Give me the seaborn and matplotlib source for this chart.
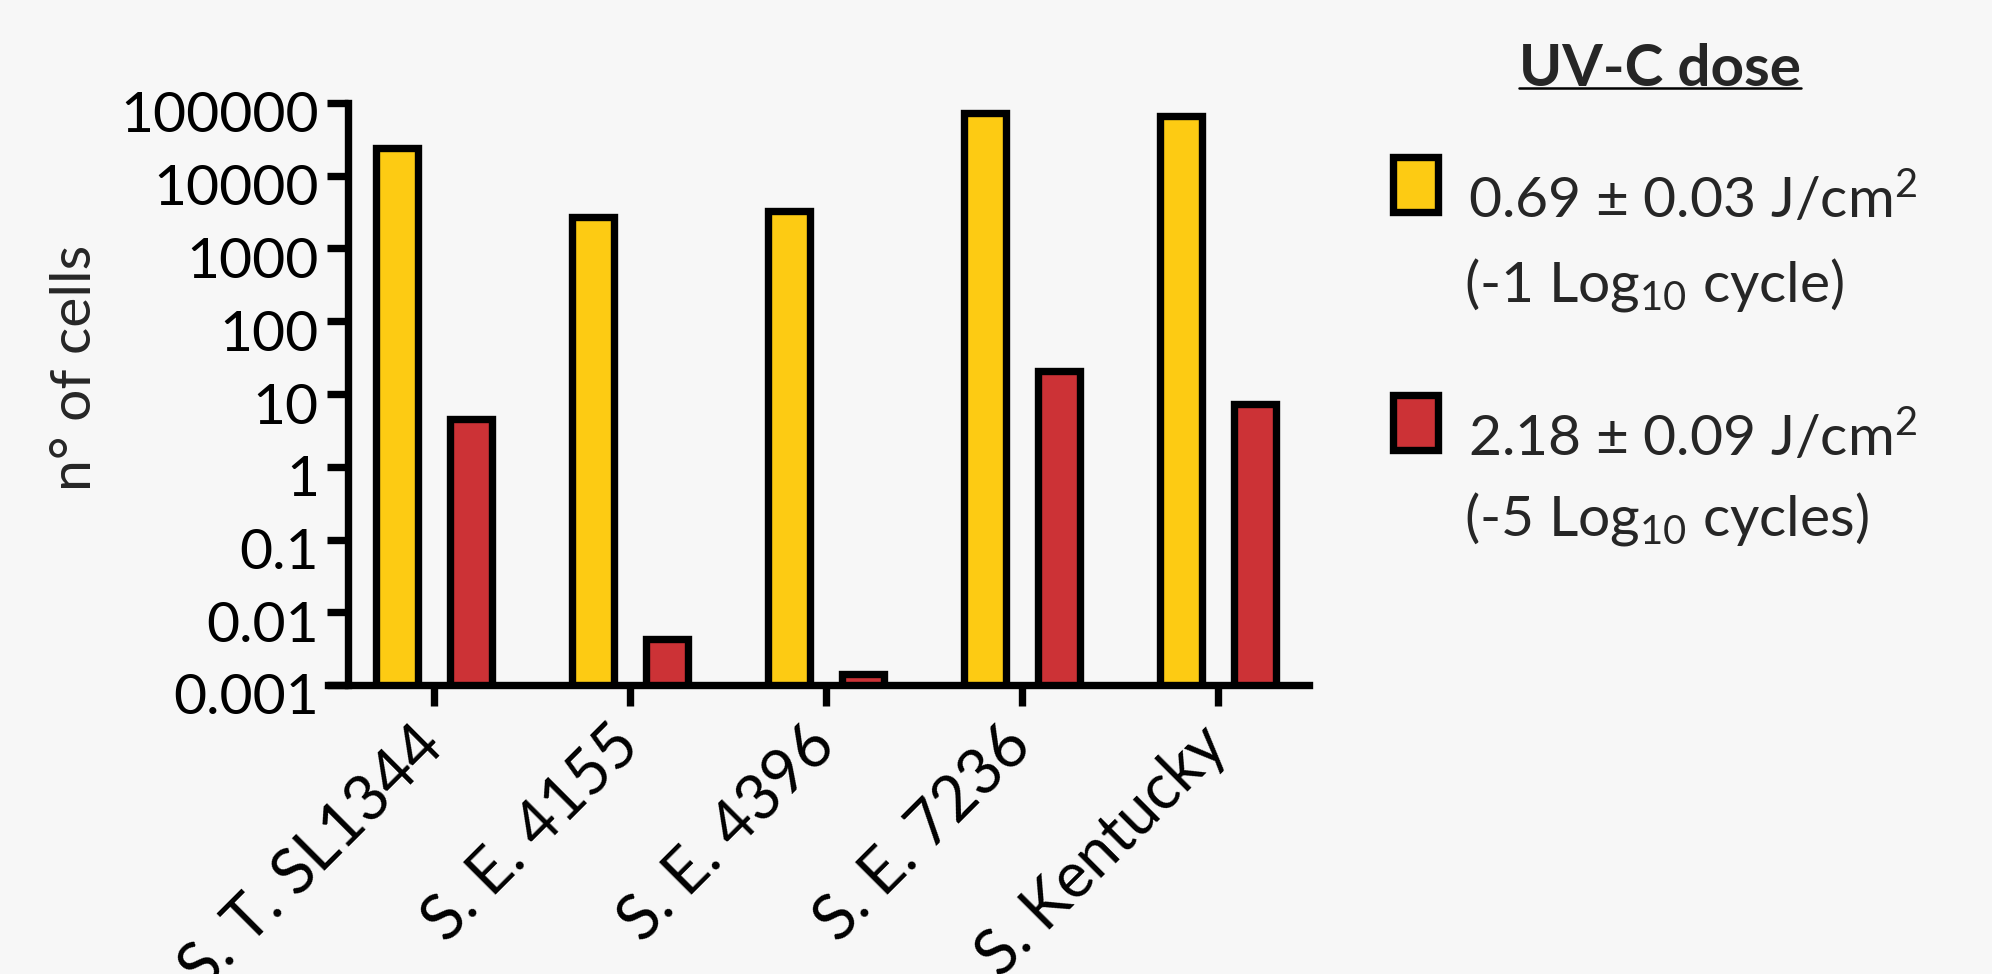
import matplotlib
matplotlib.use("Agg")
import matplotlib.pyplot as plt
import matplotlib.transforms as mtransforms
from matplotlib.patches import Rectangle
from matplotlib.lines import Line2D
from matplotlib.ticker import NullLocator
import pandas as pd
import seaborn as sns

# Strains and surviving cell counts after each UV-C dose
strains = ["S. T. SL1344", "S. E. 4155", "S. E. 4396", "S. E. 7236", "S. Kentucky"]
low_dose_counts = [24000, 2700, 3300, 72000, 67000]
high_dose_counts = [4.5, 0.0043, 0.0014, 21, 7.2]

dose_names = ["low", "high"]
dose_line1 = ["0.69 ± 0.03 J/cm$^{2}$", "2.18 ± 0.09 J/cm$^{2}$"]
dose_line2 = ["(-1 Log$_{10}$ cycle)", "(-5 Log$_{10}$ cycles)"]
legend_title = "UV-C dose"
y_label = "n° of cells"

y_tick_values = [0.001, 0.01, 0.1, 1, 10, 100, 1000, 10000, 100000]
y_tick_labels = ["0.001", "0.01", "0.1", "1", "10", "100", "1000", "10000", "100000"]

colors = ["#FDCB13", "#CC3236"]
bg = "#F7F7F7"

sns.set_theme(style="ticks")
plt.rcParams["font.family"] = ["Lato", "DejaVu Sans"]
plt.rcParams["mathtext.fontset"] = "custom"
plt.rcParams["mathtext.rm"] = "Lato"
plt.rcParams["mathtext.it"] = "Lato:italic"
plt.rcParams["mathtext.bf"] = "Lato:bold"
plt.rcParams["mathtext.default"] = "regular"

df = pd.DataFrame({
    "strain": strains * 2,
    "dose": [dose_names[0]] * len(strains) + [dose_names[1]] * len(strains),
    "cells": low_dose_counts + high_dose_counts,
})

W, H = 1992, 974
fig = plt.figure(figsize=(W / 100, H / 100), dpi=100, facecolor=bg)
ax = fig.add_axes([348 / W, 1 - 685 / H, (1309 - 348) / W, (685 - 103) / H])
ax.set_facecolor(bg)

sns.barplot(
    data=df, x="strain", y="cells", hue="dose", order=strains,
    hue_order=dose_names, palette=colors, saturation=1, errorbar=None,
    width=0.76, gap=0.44, edgecolor="black", linewidth=5.3,
    legend=False, ax=ax,
)
ax.set_yscale("log")

ax.set_ylim(0.001, 100000)
ax.set_xlim(-0.439, 4.464)
ax.set_yticks(y_tick_values)
ax.set_yticklabels(y_tick_labels)
ax.yaxis.set_minor_locator(NullLocator())

sns.despine(ax=ax)
for side in ["left", "bottom"]:
    ax.spines[side].set_linewidth(5.3)
    ax.spines[side].set_color("black")
    ax.spines[side].set_capstyle("projecting")
ax.spines["bottom"].set_bounds(-0.541, 4.464)

ax.tick_params(axis="both", length=15, width=5.3, color="black",
               labelsize=41, labelcolor="black")
ax.tick_params(axis="y", pad=6)
ax.tick_params(axis="x", pad=22, labelsize=45)

# Nudge the y tick labels slightly down
shift = mtransforms.ScaledTranslation(0, -9 / 100, fig.dpi_scale_trans)
for lab in ax.get_yticklabels():
    lab.set_transform(lab.get_transform() + shift)

ax.set_xlabel("")
for lab in ax.get_xticklabels():
    lab.set_rotation(45)
    lab.set_ha("right")
    lab.set_va("center")
    lab.set_rotation_mode("anchor")

ax.set_ylabel(y_label, fontsize=41, va="center")
ax.yaxis.set_label_coords((75 - 348) / 961, (685 - 368) / 582)

# Legend block on the right
title = fig.text(1660 / W, 1 - 86 / H, legend_title, ha="center",
                 va="baseline", fontsize=42, fontweight="bold")
fig.canvas.draw()
bb = title.get_window_extent()
fig.add_artist(Line2D([bb.x0 / W, bb.x1 / W], [1 - 88 / H, 1 - 88 / H],
                      color="black", linewidth=1.8))

patch_tops = [156.5, 394.5]
line1_base = [218, 456]
line2_base = [302, 536]
for i in range(2):
    fig.add_artist(Rectangle((1392.5 / W, 1 - (patch_tops[i] + 55) / H),
                             45 / W, 55 / H, facecolor=colors[i],
                             edgecolor="black", linewidth=5.3))
    fig.text(1468 / W, 1 - line1_base[i] / H, dose_line1[i], ha="left",
             va="baseline", fontsize=41)
    fig.text(1464 / W, 1 - line2_base[i] / H, dose_line2[i], ha="left",
             va="baseline", fontsize=41)

fig.savefig("out.png", dpi=100, facecolor=bg)
